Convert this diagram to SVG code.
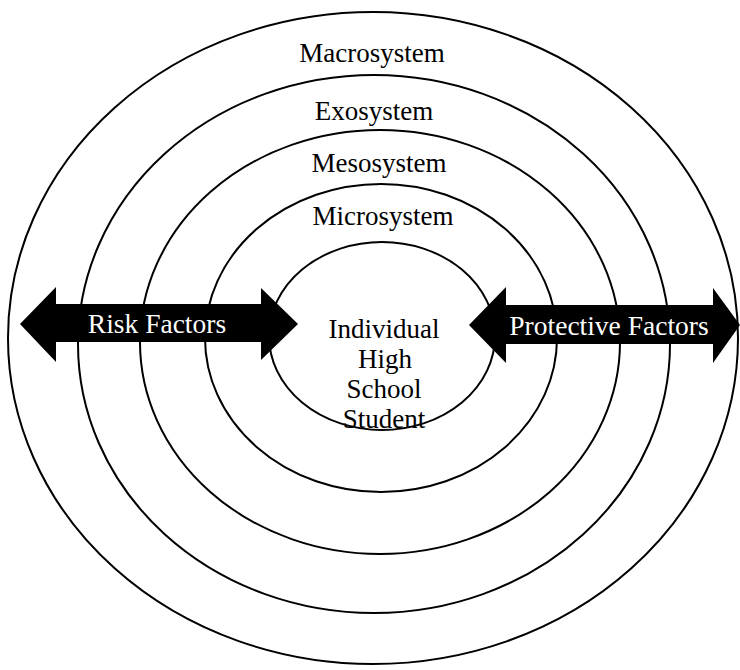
<svg xmlns="http://www.w3.org/2000/svg" width="740" height="670" viewBox="0 0 740 670">
<style>
.ring{fill:none;stroke:#000;stroke-width:2}
.lbl{font-family:"Liberation Serif","Times New Roman",serif;font-size:27px;fill:#000;text-anchor:middle}
.alb{font-family:"Liberation Serif","Times New Roman",serif;font-size:27.5px;fill:#fff;text-anchor:middle}
.arrow{fill:#000;stroke:none}
</style>
<rect width="740" height="670" fill="#fff"/>
<g id="macrosystem">
<ellipse class="ring" cx="373" cy="338" rx="365" ry="326"/>
<text class="lbl" x="372" y="62">Macrosystem</text>
</g>
<g id="exosystem">
<ellipse class="ring" cx="374" cy="344" rx="296" ry="269"/>
<text class="lbl" x="374" y="120">Exosystem</text>
</g>
<g id="mesosystem">
<ellipse class="ring" cx="380" cy="342" rx="240" ry="212"/>
<text class="lbl" x="379" y="172">Mesosystem</text>
</g>
<g id="microsystem">
<ellipse class="ring" cx="381" cy="338" rx="176" ry="154"/>
<text class="lbl" x="383" y="225">Microsystem</text>
</g>
<g id="individual">
<ellipse class="ring" cx="382" cy="336" rx="113" ry="94"/>
<text class="lbl" x="384" y="338">Individual</text>
<text class="lbl" x="385" y="368">High</text>
<text class="lbl" x="384" y="398">School</text>
<text class="lbl" x="384" y="428">Student</text>
</g>
<g id="connectors">
<g id="risk-factors">
<polygon class="arrow" points="20,324 56,287 56,304 261,304 261,288 298,324 261,360 261,342 56,342 56,362"/>
<text class="alb" x="157" y="333">Risk Factors</text>
</g>
<g id="protective-factors">
<polygon class="arrow" points="469,325 506,287 506,305 713,305 713,288 740,325 713,363 713,344 506,344 506,363"/>
<text class="alb" x="609" y="335">Protective Factors</text>
</g>
</g>
</svg>
